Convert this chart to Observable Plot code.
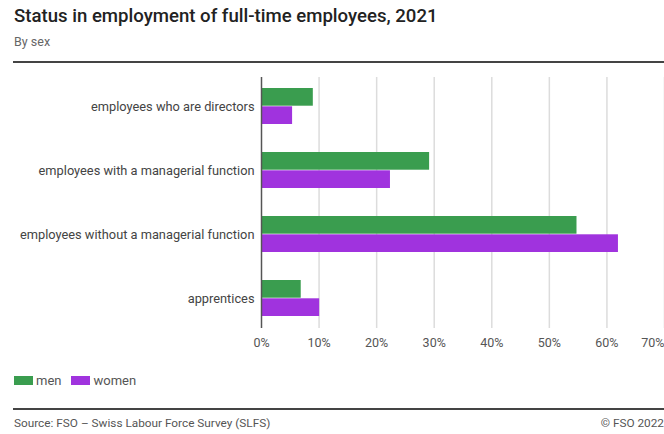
<!DOCTYPE html>
<html><head><meta charset="utf-8">
<script src="https://cdn.jsdelivr.net/npm/d3@7"></script>
<script src="https://cdn.jsdelivr.net/npm/@observablehq/plot@0.6"></script>
<style>
body{margin:0;background:#fff;font-family:Roboto,sans-serif;width:664px;height:434px;position:relative;overflow:hidden}
.abs{position:absolute;white-space:nowrap}
#title{left:14px;top:5px;font-size:18.6px;font-weight:500;color:#222}
#sub{left:14px;top:34px;font-size:12.5px;color:#666}
.rule{position:absolute;left:13px;right:0;height:1.5px;background:#444}
#legend{left:14px;top:373px;font-size:13px;color:#555;display:flex;align-items:center}
.sw{display:inline-block;width:19px;height:9px;margin-right:3px}
#src{left:14px;top:416px;font-size:11.8px;color:#555}
#copy{right:0px;top:416px;font-size:11.8px;color:#555}
#chart{position:absolute;left:0;top:70px}
</style></head>
<body>
<div class="abs" id="title">Status in employment of full-time employees, 2021</div>
<div class="abs" id="sub">By sex</div>
<div class="rule" style="top:61px"></div>
<div id="chart"></div>
<div class="abs" id="legend"></div>
<div class="rule" style="top:408px"></div>
<div class="abs" id="src">Source: FSO – Swiss Labour Force Survey (SLFS)</div>
<div class="abs" id="copy">© FSO 2022</div>
<script>
const categories = ["employees who are directors","employees with a managerial function","employees without a managerial function","apprentices"];
const series = ["men","women"];
const colors = ["#3a9d4f","#a033de"];
const men = [9.0, 29.2, 54.8, 6.9];
const women = [5.4, 22.4, 62.0, 10.1];
const xTicks = [0,10,20,30,40,50,60,70];

const rows = categories.map((c,i)=>({cat:c, men:men[i], women:women[i]}));

const H = 290, mt = 7, mb = 32;
const pi = 0.43, po = 0.17;
const step = (H - mt - mb) / (categories.length - pi + 2*po);
const half = step*(1-pi)/2;

const chart = Plot.plot({
  width: 664, height: H,
  marginTop: mt, marginBottom: mb, marginLeft: 261, marginRight: 0,
  style: {fontFamily: "Roboto, sans-serif", background: "transparent"},
  x: {domain: [0,70]},
  y: {domain: categories, paddingInner: pi, paddingOuter: po},
  marks: [
    Plot.ruleX(xTicks.slice(1), {stroke: "#dcdcdc", strokeWidth: 1.5}),
    Plot.barX(rows, {y: "cat", x: "men", fill: colors[0], insetBottom: half}),
    Plot.barX(rows, {y: "cat", x: "women", fill: colors[1], insetTop: half}),
    Plot.ruleX([0], {stroke: "#555", strokeWidth: 1.5}),
    Plot.axisX({ticks: xTicks.slice(0,-1), tickSize: 0, tickPadding: 10, tickFormat: d => d + "%", fontSize: 12.5, fill: "#555", label: null}),
    Plot.axisX({ticks: xTicks.slice(-1), tickSize: 0, tickPadding: 10, tickFormat: d => d + "%", fontSize: 12.5, fill: "#555", label: null, textAnchor: "end"}),
    Plot.axisY({tickSize: 0, tickPadding: 7, fontSize: 12.8, fill: "#444", label: null})
  ]
});
document.getElementById("chart").appendChild(chart);

const lg = document.getElementById("legend");
series.forEach((s,i)=>{
  const sw = document.createElement("span"); sw.className="sw"; sw.style.background=colors[i];
  const t = document.createElement("span"); t.textContent=s; t.style.marginRight="10px";
  lg.appendChild(sw); lg.appendChild(t);
});
</script>
</body></html>
